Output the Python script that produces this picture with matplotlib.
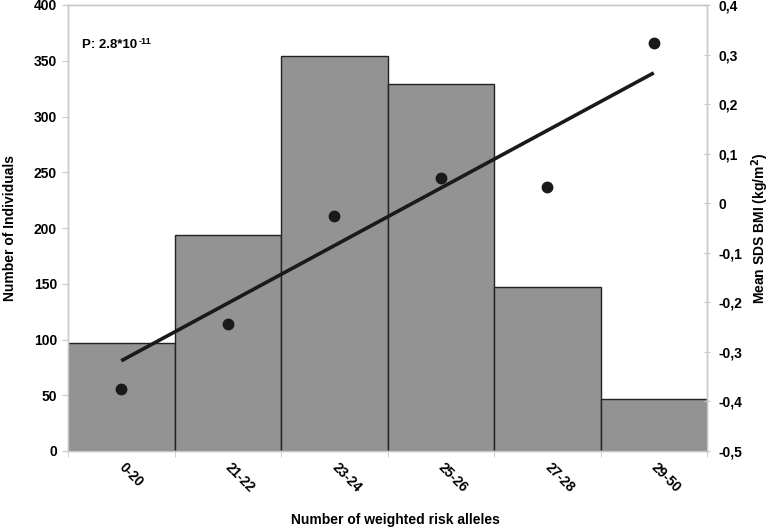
import matplotlib
matplotlib.use("Agg")
import matplotlib.pyplot as plt
import numpy as np

plt.rcParams['font.family'] = ['Liberation Sans', 'DejaVu Sans']
plt.rcParams['font.weight'] = 'bold'

categories = ["0-20", "21-22", "23-24", "25-26", "27-28", "29-50"]
individuals = [97, 194, 354, 329, 147, 47]
mean_sds_bmi = [-0.375, -0.244, -0.026, 0.051, 0.033, 0.324]
trend_ends = [-0.318, 0.263]
left_ticks = [0, 50, 100, 150, 200, 250, 300, 350, 400]
right_ticks = [-0.5, -0.4, -0.3, -0.2, -0.1, 0, 0.1, 0.2, 0.3, 0.4]
right_labels = ["-0,5", "-0,4", "-0,3", "-0,2", "-0,1", "0", "0,1", "0,2", "0,3", "0,4"]

fig = plt.figure(figsize=(7.72, 5.29), dpi=100)
ax = fig.add_axes([68/772, 1-451/529, (707-68)/772, (451-5)/529])
x = np.arange(len(categories))
ax.bar(x, individuals, width=1.0, color="#939393", edgecolor="#222222", linewidth=1.0, zorder=2)
ax.set_xlim(-0.5, len(categories)-0.5)
ax.set_ylim(0, 400)
ax.set_yticks(left_ticks)
ax.set_yticklabels([str(t) for t in left_ticks], fontsize=10, fontweight='bold')
ax.set_xticks(x)
ax.set_xticklabels(categories, rotation=-45, ha='left', va='center', rotation_mode='anchor', fontsize=10, fontweight='bold')
ax.tick_params(axis='x', length=0, pad=10)
ax.set_xticks(np.arange(-0.5, len(categories)), minor=True)
ax.tick_params(axis='x', which='minor', length=4, color='#c8c8c8', direction='out')
ax.tick_params(axis='y', length=4, color='#c8c8c8', direction='out', pad=4)
for s in ax.spines.values():
    s.set_color('#c8c8c8')
    s.set_linewidth(1.0)
fig.text(10/772, 1-228/529, "Number of Individuals", rotation=90, fontsize=10, fontweight='bold', ha='center', va='center')
fig.text(395/772, 1-520/529, "Number of weighted risk alleles", fontsize=10, fontweight='bold', ha='center', va='center')

fig.text(82/772, 1-45/529, "P: 2.8*10", fontsize=9.5, fontweight='bold', va='center', ha='left')
fig.text(139/772, 1-41/529, "-11", fontsize=6.5, fontweight='bold', va='center', ha='left')

ax2 = ax.twinx()
ax2.set_ylim(-0.5, 0.4)
ax2.set_yticks(right_ticks)
ax2.set_yticklabels(right_labels, fontsize=10, fontweight='bold')
ax2.tick_params(axis='y', length=4, color='#c8c8c8', direction='inout', pad=6)
for s in ax2.spines.values():
    s.set_color('#c8c8c8')
    s.set_linewidth(1.0)
ax2.plot([x[0], x[-1]], trend_ends, color='#1a1a1a', linewidth=2.6, solid_capstyle='butt', zorder=3)
ax2.plot(x, mean_sds_bmi, 'o', color='#1a1a1a', markersize=7.5, zorder=4)
fig.text(760/772, 1-228/529, "Mean SDS BMI (kg/m$^{\\mathbf{2}}$)", rotation=90, fontsize=10, fontweight='bold', ha='center', va='center')

fig.savefig("out.png", dpi=100)
